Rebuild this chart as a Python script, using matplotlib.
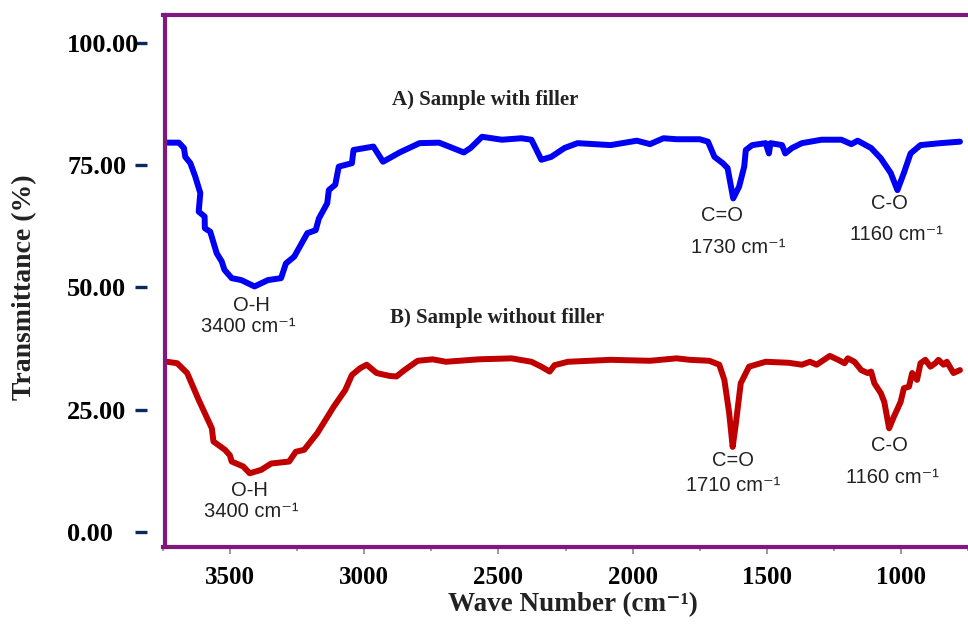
import matplotlib
matplotlib.use('Agg')
import matplotlib.pyplot as plt

# --- Данные ---
WAVE_A = [3734, 3691, 3672, 3667, 3648, 3630, 3611, 3617, 3595, 3594, 3574, 3550, 3531, 3521,
          3494, 3458, 3409, 3359, 3310, 3292, 3261, 3212, 3181, 3169, 3138, 3132, 3108, 3095,
          3046, 3040, 2966, 2930, 2868, 2794, 2721, 2684, 2629, 2604, 2561, 2487, 2414, 2377,
          2358, 2340, 2303, 2254, 2205, 2082, 1984, 1935, 1885, 1836, 1750, 1719, 1695, 1664,
          1646, 1625, 1603, 1584, 1578, 1554, 1504, 1492, 1486, 1443, 1431, 1406, 1369, 1296,
          1222, 1185, 1161, 1111, 1075, 1038, 1013, 989, 964, 927, 853, 780]
TRANS_A = [79.6, 79.6, 78.5, 76.7, 75.4, 72.7, 69.3, 65.5, 64.5, 62.1, 61.4, 57.0, 55.3, 53.6,
           51.9, 51.5, 50.2, 51.5, 51.9, 54.9, 56.3, 61.1, 61.7, 64.1, 67.2, 69.9, 71.0, 74.7,
           75.4, 78.1, 78.8, 75.7, 77.6, 79.5, 79.6, 78.8, 77.6, 78.5, 80.8, 80.2, 80.5, 80.2,
           78.1, 76.1, 76.7, 78.5, 79.5, 79.1, 80.0, 79.3, 80.5, 80.3, 80.3, 79.8, 76.7, 75.4,
           74.4, 68.2, 70.6, 74.7, 78.1, 79.1, 79.5, 77.4, 79.5, 79.1, 77.4, 78.5, 79.5, 80.2,
           80.2, 79.3, 80.0, 78.5, 76.4, 73.4, 69.9, 73.4, 77.4, 79.1, 79.5, 79.8]

WAVE_B = [3734, 3697, 3660, 3617, 3568, 3562, 3519, 3501, 3494, 3451, 3427, 3384, 3347, 3280,
          3255, 3224, 3175, 3114, 3071, 3046, 3015, 2991, 2954, 2905, 2880, 2850, 2801, 2745,
          2696, 2573, 2451, 2377, 2340, 2309, 2291, 2241, 2082, 1935, 1836, 1787, 1714, 1677,
          1658, 1640, 1627, 1615, 1597, 1566, 1504, 1419, 1369, 1339, 1314, 1265, 1234, 1210,
          1198, 1173, 1148, 1124, 1111, 1099, 1087, 1075, 1062, 1044, 1026, 1001, 989, 970,
          958, 940, 927, 909, 890, 872, 860, 841, 829, 804, 780]
TRANS_B = [34.8, 34.5, 32.5, 27.0, 21.2, 18.5, 16.8, 15.7, 14.4, 13.4, 12.0, 12.7, 14.0, 14.4,
           16.4, 16.8, 20.2, 25.6, 29.0, 32.1, 33.5, 34.2, 32.5, 31.9, 31.8, 33.1, 35.0, 35.3,
           34.8, 35.3, 35.5, 34.8, 33.8, 32.8, 34.1, 34.8, 35.2, 35.0, 35.5, 35.2, 35.0, 34.2,
           31.1, 24.3, 17.4, 22.2, 30.4, 33.8, 34.8, 34.6, 34.2, 34.8, 34.2, 36.0, 35.2, 34.5,
           35.5, 34.8, 33.1, 32.5, 32.8, 30.4, 29.4, 28.4, 26.6, 21.2, 23.6, 26.6, 29.4, 29.7,
           32.5, 31.1, 34.5, 35.2, 33.8, 34.5, 35.2, 34.2, 34.8, 32.5, 33.1]

Y_TICKS = [0, 25, 50, 75, 100]
Y_TICK_LABELS = ['0.00', '25.00', '50.00', '75.00', '100.00']
X_TICKS = [3500, 3000, 2500, 2000, 1500, 1000]
X_MINOR = [3750, 3250, 2750, 2250, 1750, 1250, 750]

# подписи пиков: (текст, x, y)
PEAK_LABELS = [
    ('O-H', 3421, 46.4), ('3400 cm⁻¹', 3432, 42.1),
    ('C=O', 1666, 64.8), ('1730 cm⁻¹', 1607, 58.1),
    ('C-O', 1043, 67.1), ('1160 cm⁻¹', 1017, 60.9),
    ('O-H', 3428, 8.4), ('3400 cm⁻¹', 3421, 4.1),
    ('C=O', 1625, 14.7), ('1710 cm⁻¹', 1625, 9.6),
    ('C-O', 1043, 17.6), ('1160 cm⁻¹', 1032, 11.2),
]
SAMPLE_TITLES = [('A) Sample with filler', 2551, 88.3),
                 ('B) Sample without filler', 2503, 43.8)]

X_LIM = (3741, 775)
Y_LIM = (-3.07, 105.7)

PURPLE = '#80187f'
SERIF = ['Liberation Serif', 'DejaVu Serif']
SANS = ['Liberation Sans', 'DejaVu Sans']

fig = plt.figure(figsize=(9.68, 6.33), dpi=100)
ax = fig.add_axes([163 / 968, 86 / 633, 1 - 163 / 968, 532 / 633])

ax.plot(WAVE_A, TRANS_A, color='#0000f5', lw=4.3, solid_joinstyle='round', solid_capstyle='round')
ax.plot(WAVE_B, TRANS_B, color='#c00000', lw=4.3, solid_joinstyle='round', solid_capstyle='round')

ax.set_xlim(*X_LIM)
ax.set_ylim(*Y_LIM)

# рамка
for side in ['top', 'bottom']:
    ax.spines[side].set_color(PURPLE)
    ax.spines[side].set_linewidth(3)
ax.spines['right'].set_visible(False)
ax.spines['left'].set_position(('outward', 11.5))
ax.spines['left'].set_visible(False)
ax.axvline(X_LIM[0], color=PURPLE, lw=3, clip_on=False)

# ось Y: отдельные черточки
ax.set_yticks(Y_TICKS)
ax.set_yticklabels(Y_TICK_LABELS, fontfamily=SERIF, fontweight='bold', fontsize=19, ha='left')
ax.tick_params(axis='y', direction='out', length=8.5, width=2.4, color='#0b2a5c', pad=49)

# ось X
ax.set_xticks(X_TICKS)
ax.set_xticks(X_MINOR, minor=True)
ax.set_xticklabels([str(v) for v in X_TICKS], fontfamily=SERIF, fontweight='bold', fontsize=18)
ax.tick_params(axis='x', which='major', direction='out', length=5, width=1.2, color='#888888', pad=9)
ax.tick_params(axis='x', which='minor', direction='out', length=3, width=1.2, color='#888888')

for txt, x, y in PEAK_LABELS:
    ax.text(x, y, txt, fontfamily=SANS, fontsize=14.5, color='#222222', ha='center', va='center')
for txt, x, y in SAMPLE_TITLES:
    ax.text(x, y, txt, fontfamily=SERIF, fontweight='bold', fontsize=15, color='#222222',
            ha='center', va='center')

fig.text(25 / 968, 1 - 287 / 633, 'Transmittance (%)', rotation=90, ha='center', va='center',
         fontfamily=SERIF, fontweight='bold', fontsize=20, color='#222222')
fig.text(573 / 968, 1 - 605 / 633, 'Wave Number (cm⁻¹)', ha='center', va='center',
         fontfamily=SERIF, fontweight='bold', fontsize=19.5, color='#222222')

fig.savefig('out.png', dpi=100)
